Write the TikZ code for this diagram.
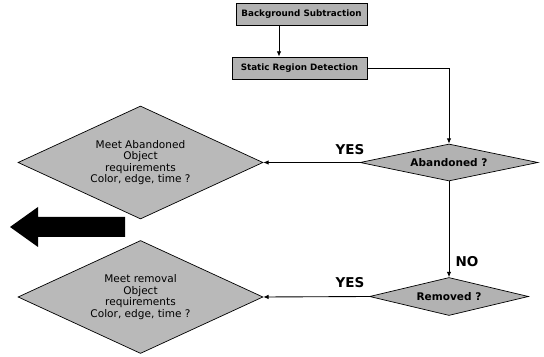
\documentclass[tikz,border=0pt]{standalone}
\usepackage{fontspec}
\setsansfont{DejaVu Sans}
\usetikzlibrary{positioning, calc, arrows.meta, shapes.geometric}

\begin{document}
\begin{tikzpicture}[
  x=0.02cm, y=-0.02cm,
  font=\sffamily,
  >={Latex[length=3pt,width=2.6pt]},
  stepbox/.style={draw=black, fill=gray!60, line width=0.5pt, inner sep=0pt,
    minimum height=0.44cm, font=\sffamily\bfseries\fontsize{5}{6}\selectfont},
  askbig/.style={diamond, draw=black, fill=gray!55, line width=0.4pt, inner sep=0pt,
    shape aspect=2.2, minimum width=4.9cm, minimum height=2.26cm, align=center,
    font=\sffamily\fontsize{6}{6.6}\selectfont},
  asksmall/.style={diamond, draw=black, fill=gray!60, line width=0.4pt, inner sep=0pt,
    shape aspect=4.8, font=\sffamily\bfseries\fontsize{6}{7}\selectfont},
  flow/.style={black, line width=0.5pt},
  answer/.style={font=\sffamily\bfseries\fontsize{7.7}{8}\selectfont},
]
\useasboundingbox (0,0) rectangle (544,357);

% ---------------- top boxes ----------------
\node[stepbox, minimum width=2.62cm] (bgsub) at (301.5,14.5) {Background Subtraction};
\node[stepbox, minimum width=2.70cm] (static) at (299.5,68) {Static Region Detection};
\coordinate (drop) at (279,0);
\draw[flow, ->] (bgsub.south -| drop) -- (static.north -| drop);

% ---------------- decisions ----------------
\node[asksmall, minimum width=3.56cm, minimum height=0.74cm] (aband) at (449,162.5) {Abandoned ?};
\node[asksmall, minimum width=3.18cm, minimum height=0.76cm] (remov) at (449,296.5) {Removed ?};

\node[askbig] (meetab) at (140.5,162.5)
  {Meet Abandoned\\Object\\requirements\\Color, edge, time ?};
\node[askbig] (meetrm) at (140.5,297)
  {Meet removal\\Object\\requirements\\Color, edge, time ?};

% ---------------- connectors ----------------
\draw[flow, ->] (static.east) -| (aband.north);
\draw[flow, ->] (aband.west) -- (meetab.east);
\draw[flow, ->] (aband.south) -- (remov.north);
\draw[flow, ->] (remov.west) -- (meetrm.east);

\node[answer] (yesab) at (350,150) {YES};
\node[answer] (norm) at (467,262) {NO};
\node[answer] (yesrm) at (350,283) {YES};

% ---------------- big left arrow ----------------
\fill[black] (10,227) -- (38,207) -- (38,217) -- (125,217)
  -- (125,237) -- (38,237) -- (38,247) -- cycle;

\end{tikzpicture}
\end{document}
